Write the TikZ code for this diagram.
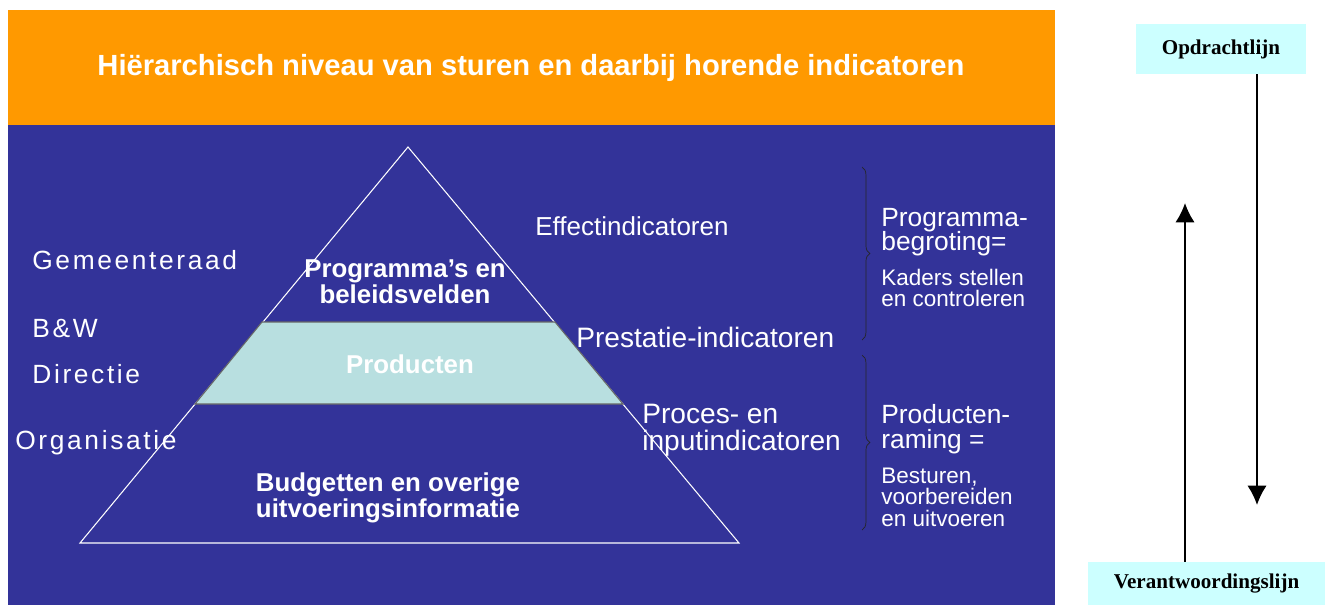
\documentclass[tikz,border=0pt]{standalone}
\usepackage{fontspec}
\setmainfont{Liberation Sans}
\newfontfamily\widesans[LetterSpace=10]{Liberation Sans}
\newfontfamily\timesfont{Liberation Serif}
\usetikzlibrary{arrows.meta, positioning, calc, decorations.pathreplacing}
\definecolor{panelblue}{RGB}{51,51,153}
\definecolor{bandorange}{RGB}{255,153,0}
\definecolor{prodteal}{RGB}{184,223,224}
\definecolor{boxcyan}{RGB}{204,255,255}

\begin{document}
\begin{tikzpicture}[x=0.02cm, y=-0.02cm,
  lbl/.style={text=white, inner sep=0pt, align=left, anchor=west},
  level/.style={lbl, font=\widesans\fontsize{15}{16}\selectfont},
  indic/.style={lbl, font=\fontsize{16}{15.2}\selectfont},
  budget/.style={lbl, font=\fontsize{15}{14}\selectfont},
  task/.style={lbl, font=\fontsize{12.8}{12.2}\selectfont},
  layer/.style={text=white, inner sep=0pt, align=center, font=\bfseries\fontsize{14.7}{13.6}\selectfont},
  linebox/.style={fill=boxcyan, inner sep=0pt, font=\timesfont\bfseries\fontsize{12}{14}\selectfont},
  flow/.style={line width=1.1pt, -{Latex[length=11pt, width=11pt]}},
  curly/.style={thin, black!85, decorate, decoration={brace, amplitude=4.5pt}},
]
\useasboundingbox (0,0) rectangle (1325,605);

% Background panels
\fill[white] (0,0) rectangle (1325,605);
\fill[panelblue] (8,125) rectangle (1055,605);
\fill[bandorange] (8,10) rectangle (1055,125);
\node[text=white, font=\bfseries\fontsize{16.6}{18}\selectfont] (title) at (531,68)
  {Hiërarchisch niveau van sturen en daarbij horende indicatoren};

% Pyramid
\coordinate (apex) at (408,147);
\coordinate (bl) at (80,543);
\coordinate (br) at (739,543);
\draw[white, line width=0.6pt] (apex) -- (bl) -- (br) -- cycle;
\filldraw[fill=prodteal, draw=black!60, line width=0.6pt]
  (262,322) -- (555,322) -- (623,404) -- (195,404) -- cycle;

\node[layer] (prog) at (405,282) {Programma’s en\\ beleidsvelden};
\node[layer] (prod) at (410,364) {Producten};
\node[layer] (budg) at (388,498) {Budgetten en overige\\ uitvoeringsinformatie};

% Levels of steering (left)
\node[level] (raad) at (32,260) {Gemeenteraad};
\node[level] (bw) at (32,329) {B\&W};
\node[level] (dir) at (32,374) {Directie};
\node[level] (org) at (15,443) {Organisatie};

% Indicators (right of pyramid)
\node[lbl, font=\fontsize{14.8}{16}\selectfont] (effect) at (535,226) {Effectindicatoren};
\node[indic] (prest) at (576,337) {Prestatie-indicatoren};
\node[indic] (proces) at (642,430) {Proces- en\\ inputindicatoren};

% Braces with documents
\foreach \ya/\yb in {167/340, 355/530}{
  \draw[curly] (862,\ya) -- (862,\yb);
}
\node[budget] (begr) at (881,232) {Programma-\\ begroting=};
\node[task] (kader) at (881,288) {Kaders stellen\\ en controleren};
\node[budget] (raming) at (881,429) {Producten-\\ raming =};
\node[task] (uitv) at (881,497) {Besturen,\\ voorbereiden\\ en uitvoeren};

% Command and accountability lines
\node[linebox, minimum width=3.4cm, minimum height=1cm] (opdr) at (1221,49) {Opdrachtlijn};
\node[linebox, minimum width=4.74cm, minimum height=0.86cm] (verantw) at (1206.5,583.5) {Verantwoordingslijn};
\coordinate (opdrend) at (1257,505);
\coordinate (verend) at (1185,203);
\draw[flow] (opdr.south -| opdrend) -- (opdrend);
\draw[flow] (verantw.north -| verend) -- (verend);
\end{tikzpicture}
\end{document}
